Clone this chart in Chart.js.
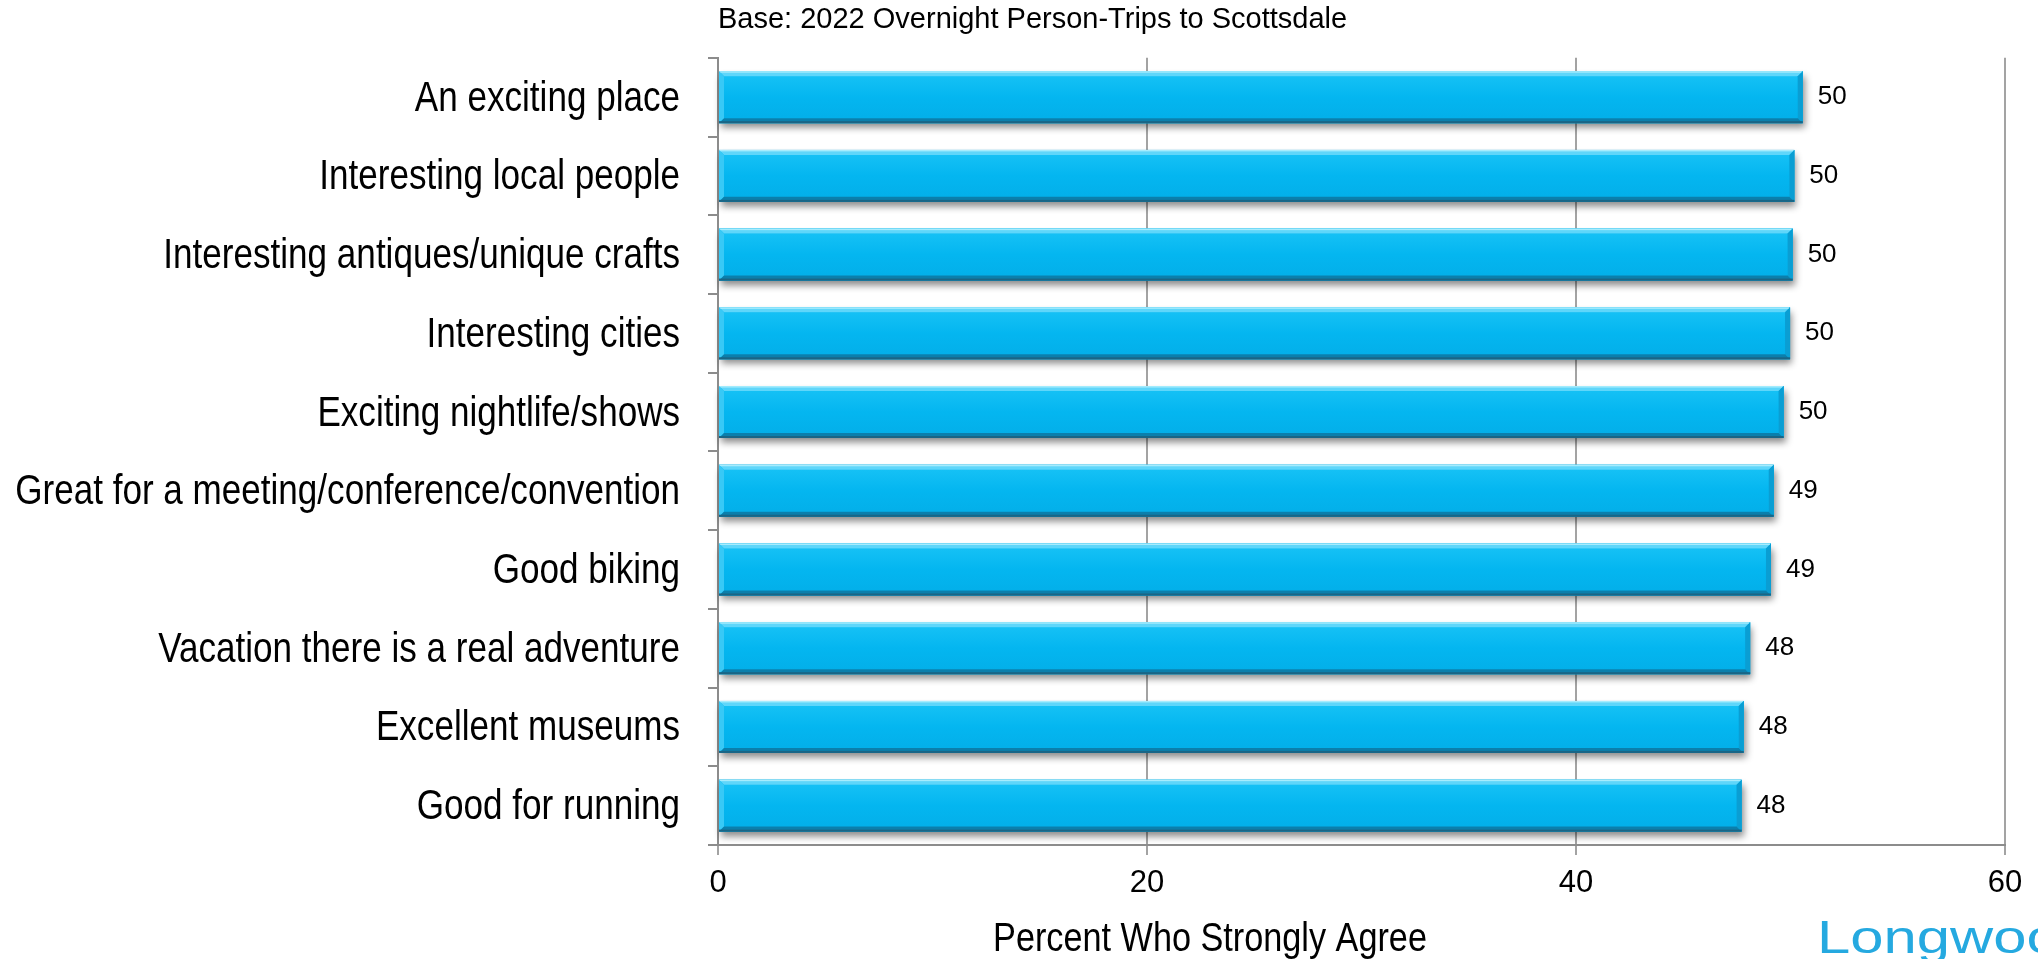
<!DOCTYPE html>
<html>
<head>
<meta charset="utf-8">
<script src="https://cdn.jsdelivr.net/npm/chart.js@4/dist/chart.umd.min.js"></script>
<style>
  html, body { margin: 0; padding: 0; background: #ffffff; }
  #wrap { width: 2038px; height: 959px; position: relative; }
</style>
</head>
<body>
<div id="wrap"><canvas id="c" width="2038" height="959"></canvas></div>
<script>
const categories = [
  "An exciting place",
  "Interesting local people",
  "Interesting antiques/unique crafts",
  "Interesting cities",
  "Exciting nightlife/shows",
  "Great for a meeting/conference/convention",
  "Good biking",
  "Vacation there is a real adventure",
  "Excellent museums",
  "Good for running"
];
const values = [50.57, 50.18, 50.10, 49.98, 49.68, 49.22, 49.09, 48.12, 47.82, 47.72];
const valueLabels = ["50", "50", "50", "50", "50", "49", "49", "48", "48", "48"];
const xTickValues = [0, 20, 40, 60];
const chartTitle = "Base: 2022 Overnight Person-Trips to Scottsdale";
const axisTitle = "Percent Who Strongly Agree";
const logoText = "Longwoods";

const REG = '"Liberation Sans", Arial, sans-serif';
const NARROW_SCALE = 0.835;   // condensed look of the original label font

function barRects(chart) {
  const meta = chart.getDatasetMeta(0);
  return meta.data.map(el => {
    const p = el.getProps(['x', 'y', 'base', 'height'], true);
    return { x0: Math.min(p.base, p.x), x1: Math.max(p.base, p.x), y0: p.y - p.height / 2, y1: p.y + p.height / 2 };
  });
}

const bevelPlugin = {
  id: 'bevel',
  beforeDatasetsDraw(chart) {
    const ctx = chart.ctx;
    ctx.save();
    barRects(chart).forEach(r => {
      ctx.shadowColor = 'rgba(0,0,0,0.45)';
      ctx.shadowBlur = 7;
      ctx.shadowOffsetX = 2;
      ctx.shadowOffsetY = 5;
      ctx.fillStyle = '#0a8fc0';
      ctx.fillRect(r.x0, r.y0, r.x1 - r.x0, r.y1 - r.y0);
    });
    ctx.restore();
  },
  afterDatasetsDraw(chart) {
    const ctx = chart.ctx;
    const b = 5;
    ctx.save();
    barRects(chart).forEach((r, i) => {
      const g = ctx.createLinearGradient(0, r.y0, 0, r.y1);
      g.addColorStop(0, '#19c3f6');
      g.addColorStop(0.5, '#04b6f0');
      g.addColorStop(1, '#03aee8');
      ctx.fillStyle = g;
      ctx.fillRect(r.x0 + b, r.y0 + b, r.x1 - r.x0 - 2 * b, r.y1 - r.y0 - 2 * b);
      ctx.fillStyle = '#5fd6fa';
      ctx.beginPath();
      ctx.moveTo(r.x0, r.y0); ctx.lineTo(r.x1, r.y0); ctx.lineTo(r.x1 - b, r.y0 + b); ctx.lineTo(r.x0 + b, r.y0 + b);
      ctx.closePath(); ctx.fill();
      ctx.fillStyle = '#a6ecfd';
      ctx.fillRect(r.x0, r.y0, r.x1 - r.x0 - 1, 1.5);
      ctx.fillStyle = '#38c9f6';
      ctx.beginPath();
      ctx.moveTo(r.x0, r.y0); ctx.lineTo(r.x0 + b, r.y0 + b); ctx.lineTo(r.x0 + b, r.y1 - b); ctx.lineTo(r.x0, r.y1);
      ctx.closePath(); ctx.fill();
      ctx.fillStyle = '#0a9ed3';
      ctx.beginPath();
      ctx.moveTo(r.x1, r.y0); ctx.lineTo(r.x1, r.y1); ctx.lineTo(r.x1 - b, r.y1 - b); ctx.lineTo(r.x1 - b, r.y0 + b);
      ctx.closePath(); ctx.fill();
      ctx.fillStyle = '#0b7fac';
      ctx.beginPath();
      ctx.moveTo(r.x0, r.y1); ctx.lineTo(r.x1, r.y1); ctx.lineTo(r.x1 - b, r.y1 - b); ctx.lineTo(r.x0 + b, r.y1 - b);
      ctx.closePath(); ctx.fill();
      ctx.fillStyle = '#1a6585';
      ctx.fillRect(r.x0, r.y1 - 2, r.x1 - r.x0, 2);
      ctx.fillStyle = '#000000';
      ctx.font = '26px ' + REG;
      ctx.textAlign = 'left';
      ctx.textBaseline = 'middle';
      ctx.fillText(valueLabels[i], r.x1 + 15, (r.y0 + r.y1) / 2);
    });
    ctx.restore();
  }
};

const extraTextPlugin = {
  id: 'extraText',
  afterDraw(chart) {
    const ctx = chart.ctx;
    const yScale = chart.scales.y;
    ctx.save();
    // category labels, condensed
    ctx.fillStyle = '#000000';
    ctx.font = '42px ' + REG;
    ctx.textAlign = 'right';
    ctx.textBaseline = 'middle';
    const lx = chart.chartArea.left - 10 - 28;
    categories.forEach((c, i) => {
      const y = yScale.getPixelForValue(i);
      ctx.save();
      ctx.translate(lx, y + 2);
      ctx.scale(NARROW_SCALE, 1);
      ctx.fillText(c, 0, 0);
      ctx.restore();
    });
    // axis title, condensed
    ctx.save();
    ctx.font = '41px ' + REG;
    ctx.textAlign = 'center';
    ctx.textBaseline = 'middle';
    ctx.translate(1210, 940);
    ctx.scale(NARROW_SCALE, 1);
    ctx.fillText(axisTitle, 0, 0);
    ctx.restore();
    // logo
    ctx.fillStyle = '#25a9e0';
    ctx.font = '46px ' + REG;
    ctx.textAlign = 'left';
    ctx.textBaseline = 'alphabetic';
    ctx.translate(1817, 953);
    ctx.scale(1.3, 1);
    ctx.fillText(logoText, 0, 0);
    ctx.restore();
  }
};

new Chart(document.getElementById('c'), {
  type: 'bar',
  data: {
    labels: categories,
    datasets: [{
      data: values,
      backgroundColor: '#05b7f0',
      borderWidth: 0,
      categoryPercentage: 1.0,
      barPercentage: 0.66
    }]
  },
  options: {
    indexAxis: 'y',
    responsive: false,
    animation: false,
    layout: { padding: { left: 0, right: 33, top: 0, bottom: 0 } },
    plugins: {
      legend: { display: false },
      tooltip: { enabled: false },
      title: {
        display: true,
        text: chartTitle,
        align: 'start',
        fullSize: false,
        color: '#000000',
        font: { family: REG, size: 29, weight: 'normal' },
        padding: { top: 3, bottom: 20 }
      }
    },
    scales: {
      x: {
        type: 'linear',
        min: 0,
        max: 60,
        afterBuildTicks(scale) { scale.ticks = xTickValues.map(v => ({ value: v })); },
        afterFit(scale) { scale.height = 114; },
        ticks: {
          color: '#000000',
          font: { family: REG, size: 31 },
          padding: 10,
          maxRotation: 0
        },
        grid: {
          color: '#a3a3a3',
          lineWidth: 2,
          tickLength: 10,
          drawTicks: true
        },
        border: { display: true, color: '#8c8c8c', width: 2 }
      },
      y: {
        type: 'category',
        afterFit(scale) { scale.width = 718; },
        ticks: {
          display: false,
          autoSkip: false
        },
        grid: {
          offset: true,
          drawOnChartArea: false,
          color: '#8c8c8c',
          lineWidth: 2,
          tickLength: 10
        },
        border: { display: true, color: '#8c8c8c', width: 2 }
      }
    }
  },
  plugins: [bevelPlugin, extraTextPlugin]
});
</script>
</body>
</html>
